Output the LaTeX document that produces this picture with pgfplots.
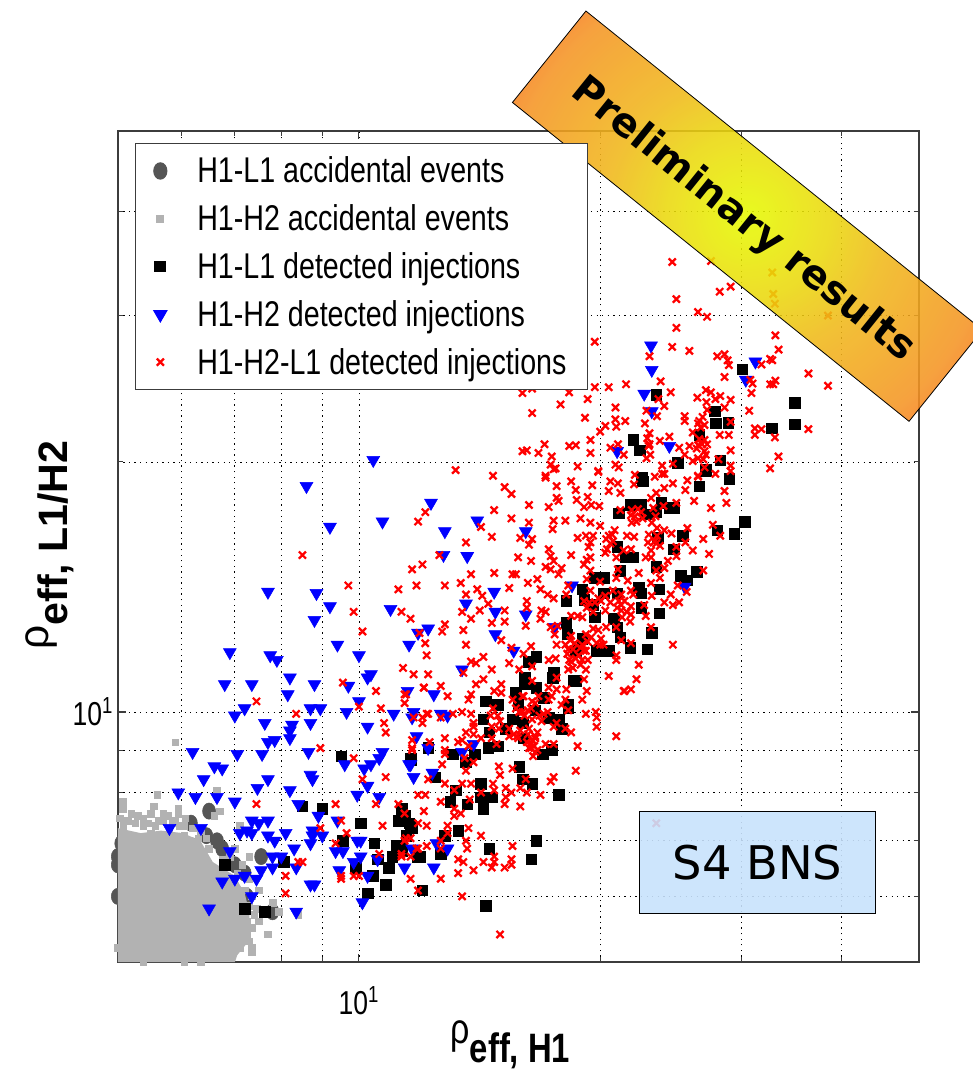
\documentclass[border=0pt]{standalone}
\usepackage{fontspec}
\usepackage{graphicx}
\usepackage{pgfplots}
\pgfplotsset{compat=1.18}
\setmainfont{Liberation Sans}[FakeStretch=0.8]
\newfontfamily\djv{DejaVu Sans}
\definecolor{darkev}{RGB}{85,85,85}
\definecolor{lightev}{RGB}{178,178,178}
\definecolor{frame}{RGB}{60,60,60}
\definecolor{boxblue}{RGB}{200,226,252}
\pgfdeclareradialshading{banner}{\pgfpoint{0bp}{0bp}}{%
  rgb(0bp)=(0.90,0.98,0);rgb(8bp)=(0.92,0.85,0.05);rgb(14bp)=(0.94,0.72,0.10);
  rgb(24bp)=(0.96,0.58,0.14);rgb(33bp)=(1,0.30,0.12);rgb(72bp)=(1,0.30,0.12)}
\newcommand{\gap}{\hspace*{21pt}}
\begin{document}
\begin{tikzpicture}
\begin{scope}[x=0.75pt,y=0.75pt]
\path[use as bounding box] (-118.5,-105) rectangle (859.5,968);
\end{scope}
\begin{axis}[
  set layers,
  scale only axis,
  width=604.5pt, height=627pt,
  xmode=log, ymode=log,
  xmin=5, xmax=50, ymin=5, ymax=50,
  clip=false,
  xtick={10}, ytick={10},
  xticklabels={10\textsuperscript{1}}, yticklabels={10\textsuperscript{1}},
  minor xtick={6,7,8,9,20,30,40},
  minor ytick={6,7,8,9,20,30,40},
  grid=both,
  major grid style={black, line width=0.6pt, dash pattern=on 1pt off 3.2pt},
  minor grid style={black, line width=0.6pt, dash pattern=on 1pt off 3.2pt},
  axis line style={frame, line width=1.1pt},
  tick align=inside,
  major tick length=6pt, minor tick length=4pt,
  tick style={frame, line width=0.8pt},
  tick label style={font=\fontsize{25}{25}\selectfont},
  xticklabel style={yshift=-15pt},
  xlabel={{\fontsize{32}{32}\selectfont ρ}\raisebox{-14pt}{\fontsize{31}{31}\selectfont\bfseries eff, H1}},
  ylabel={\scalebox{1.25}[1]{{\fontsize{32}{32}\selectfont ρ}\raisebox{-14pt}{\fontsize{31}{31}\selectfont\bfseries eff, L1/H2}}},
  xlabel style={at={(axis description cs:0.49,-0.0993)},anchor=center},
  ylabel style={at={(axis description cs:-0.085,0.502)},anchor=center},
  legend cell align=left,
  legend image post style={xshift=4pt},
  legend style={at={(0.0211,0.9856)}, anchor=north west, draw=frame, line width=0.9pt,
    font=\fontsize{27}{28}\selectfont, row sep=11pt, inner xsep=14pt, inner ysep=8pt},
]
% H1-L1 accidental
\addplot[only marks, mark=*, mark size=4.9pt, color=darkev, on layer=pre main, mark layer=like plot,
  every mark/.append style={yscale=1.25}] coordinates {
(6.5,7.6)(6.17,7.35)(6.45,7.1)(6.65,7)(6.75,6.85)(7,6.55)(7.55,6.7)(7.8,5.75)(7.25,6)
(5,6.7)(5,6.55)(5,6)(5.05,6.95)(5.35,6.95)(5.6,7)(6.2,6.9)(7.2,6.4)};
\addlegendentry{\gap H1-L1 accidental events}
% dense core of the H1-H2 accidentals, too many overlapping points to read one by one
\addplot[forget plot, draw=none, fill=lightev] coordinates {
(5,7.25)(5.34,7.15)(5.66,7.2)(6.03,7.15)(6.34,7)(6.57,6.6)(7,6.35)(7.2,6.05)(7.3,5.75)
(7.3,5.55)(7.25,5.27)(7.05,5.1)(7,5)(5,5)} -- cycle;
\addplot[only marks, mark=square*, mark size=2.5pt, color=lightev] coordinates {
(5.07,7.8)(5.07,7.65)(5.2,7.55)(5.38,7.45)(5.5,7.55)(5.55,7.7)(5.7,7.55)(5.95,7.65)(5.95,7.55)
(5.08,7.3)(5.26,7.35)(5.38,7.3)(5.57,7.3)(5.7,7.4)(5.85,7.35)(5.98,7.3)(5.6,7.95)(5.9,9.2)
(6.65,8.05)(6.7,7.6)(6.6,7.5)(6.07,7.45)(7,6.85)(7.1,7.3)(7.3,6.7)(7.5,6.1)(7.45,5.8)(7.95,5.75)
(8.4,5.7)(7.7,5.4)(7.35,5.2)(7.35,5.15)(7.8,5.9)(7.25,5.4)(7.1,5.35)(7,5.2)(6.75,5.13)(6.05,5)
(6.35,5)(5.38,5)(5,5.2)(5.2,7.1)(5.5,7.15)(5.8,7.15)(6.05,7.1)(6.3,7.05)(6.5,6.85)(6.75,6.65)
(7.05,6.4)(7.2,6.1)(7.3,5.85)(7.25,5.6)(7.15,5.45)(7,5.35)(6.9,5.2)
(5.03,7.45)(5.15,7.4)(5.3,7.5)(5.45,7.35)(5.62,7.4)(5.78,7.5)(5.9,7.4)(6.05,7.3)(6.2,7.25)(6.35,7.2)
(6.45,7.05)(6.9,6.7)(7.15,6.55)(7.3,6.3)(7.35,6)(7.4,5.7)(7.5,5.6)(7.35,5.5)(7.3,5.3)(7.1,5.2)};
\addlegendentry{\gap H1-H2 accidental events}
% H1-L1 injections
\addplot[only marks, mark=square*, mark size=4pt, color=black] coordinates {
(9.5,8.85)(11.6,8.8)(8.5,7.7)(9,7.65)(11.3,7.65)(11.2,7.4)(10.05,7.35)(11.6,7.3)(9.55,7)(10.45,6.95)
(11.15,6.9)(11,6.7)(10.9,6.5)(6.8,6.55)(8.05,6.6)(9.9,6.5)(10.55,6.65)(10.4,6.35)(10.8,6.2)(10.25,6.05)
(7.2,5.8)(7.63,5.75)(11.85,6.7)(16.1,10.8)(16.65,10.7)(15.7,10.55)(17.45,11)(18.55,10.9)(14.4,10.3)
(14.9,10.2)(15.8,10.2)(16.6,10.05)(18.25,10.1)(17.25,9.85)(17.75,9.8)(14.3,9.8)(15.55,9.8)(16,9.7)
(17.9,9.55)(15.25,9.55)(14.55,9.45)(16.05,9.3)(14.5,9.05)(14.9,9.1)(13.1,8.9)(13.95,8.9)(13.6,8.7)
(16.95,8.9)(17.4,9)(12.2,9.05)(11.6,8.75)(12.45,8.35)(15.85,8.6)(16,8.3)(16.45,8.2)(14.2,8.2)(14.2,7.9)
(13.2,8.05)(13,7.8)(13.65,7.75)(14.65,7.9)(14.3,7.65)(17.75,7.95)(13.3,7.2)(12.8,7.1)(16.65,7)(14.55,6.85)
(16.4,6.65)(12.65,6.75)(11.9,6.7)(12,6.1)(14.4,5.85)(11.4,7.5)(11.55,7.35)(11.65,7.25)(11.45,7.1)(11.3,6.9)
(11.3,6.8)(22.6,18.95)(29,19.1)(26.6,18.7)(27.1,19.5)(21.8,17.75)(22.5,17.75)(23.85,17.85)(21.1,17.35)
(22.8,17.3)(23.5,17.4)(24.4,17.6)(24.7,17.6)(30.3,16.95)(29.4,16.4)(28,16.55)(25.35,16.3)(23.6,16.2)
(24.7,15.7)(21,15.8)(22,15.35)(21.5,15.35)(23.5,14.95)(21.2,14.8)(19.7,14.5)(20.25,14.5)(25.2,14.6)
(26.4,14.75)(25.7,14.4)(23.7,14.05)(22.35,14.1)(22.5,13.9)(20.2,13.9)(21,13.9)(19,14.05)(19.1,13.65)
(18.15,13.6)(19.6,13.45)(22.5,13.35)(23.7,13.15)(19.7,13)(20.8,12.95)(18.15,12.8)(21,12.65)(18.2,12.4)
(19,12.25)(21.2,12.3)(23.2,12.45)(22.9,11.9)(21.8,11.95)(20.5,11.85)(19.8,11.85)(18.65,11.85)(16.65,11.65)
(16.3,11.5)(17.5,11.15)(18.65,10.9)(16.1,11)(17,10.4)(18.25,10.2)(23.5,24.1)(30.1,25.85)(27.8,23)(27.9,22.25)
(28.9,22.3)(35,23.55)(35,22.2)(32.75,21.95)(22,21.25)(22.4,20.65)(26.6,21.55)(28.25,20.1)(27.1,19.6)(25,19.95)
(22.55,19.15)};
\addlegendentry{\gap H1-L1 detected injections}
% H1-H2 injections
\addplot[only marks, mark=triangle*, mark size=5.6pt, color=blue,
  every mark/.append style={rotate=180}] coordinates {
(10.42,20.1)(8.6,18.7)(12.3,17.85)(10.7,16.95)(9.2,16.7)(12.8,16.5)(12.75,15.45)(13.65,15.4)(7.7,13.95)
(8.85,13.9)(9.2,13.4)(10.95,13.3)(13.6,13.5)(8.8,12.9)(12.2,12.6)(11.85,12.45)(9.4,12.05)(11.55,12.05)
(6.9,11.8)(7.75,11.7)(7.9,11.55)(10,11.7)(10.35,11.1)(10.25,11)(13.45,11.25)(8.2,11)(7.35,10.8)(6.8,10.8)
(8.8,10.8)(9.7,10.75)(8.15,10.5)(11.5,10.6)(12.4,10.5)(10,10.3)(7.2,10.1)(8.7,10.1)(8.95,10.1)(9.65,10)
(7,9.9)(11.05,9.95)(11.7,10)(12.65,9.95)(12.9,9.9)(7.63,9.7)(8.7,9.7)(8.25,9.65)(10.25,9.6)(11.65,9.85)
(8.2,9.5)(8.2,9.3)(7.85,9.25)(7.7,9.2)(6.2,8.95)(7.05,8.9)(7.57,8.9)(8.65,8.95)(10.7,8.95)(10.6,8.8)
(9.6,8.65)(10.15,8.55)(10.35,8.65)(11.55,8.65)(6.6,8.6)(6.75,8.55)(6.4,8.3)(7.7,8.3)(8.7,8.4)(8.75,8.3)
(11.7,8.35)(7.47,8.1)(8.2,8.05)(10.25,8.15)(9.95,7.95)(5.95,8)(6.25,7.9)(6.65,7.9)(7,7.8)(10.6,7.9)
(8.4,7.75)(8.9,7.5)(7.7,7.4)(7.35,7.4)(7.5,7.35)(9.4,7.4)(5.8,7.25)(6.35,7.25)(7.1,7.15)(7.25,7.2)
(7.35,7.15)(8.75,7.2)(8.75,7.1)(9,7.1)(8.1,7.15)(7.7,7.1)(7.85,7)(8.7,6.95)(9.95,7)(10.05,7)(8.3,6.85)
(6.9,6.8)(9.35,6.8)(9.55,6.8)(8,6.7)(7.8,6.7)(10.05,6.7)(9.85,6.6)(10.55,6.65)(11.4,6.5)(7.8,6.5)
(8.35,6.5)(7.55,6.45)(9.45,6.45)(10.25,6.35)(7.2,6.35)(7,6.3)(7.45,6.3)(6.75,6.25)(8.7,6.2)(8.8,6.2)
(7.35,6)(10.1,5.9)(6.5,5.8)(8.35,5.75)(11.8,9.35)(13.9,9.15)(12.2,9.05)(13.45,8.95)(11.6,8.65)(12.35,8.45)
(11.65,6.85)(12.5,6.95)(12.9,6.85)(12.4,6.5)(14.05,17)(16.15,16.5)(14.75,13.95)(14.8,13.2)(16.15,13.1)
(14.8,12.4)(15.6,11.85)(18.45,14.2)(17.55,12.65)(25.5,14.15)(23.15,27.6)(23.2,25.8)(22.7,24.15)(31.25,26.4)
(30.4,25.1)(23.2,23)(24.4,20.9)(21,20.6)};
\addlegendentry{\gap H1-H2 detected injections}
% H1-H2-L1 injections
\addplot[only marks, mark=x, mark size=3.8pt, color=red, mark options={line width=1.7pt}] coordinates {
(24.6,34.8)(24.9,31.4)(28.2,32.05)(29.1,32.5)(26.5,30.3)(27.2,29.9)(24.9,29)(19.7,27.9)(24.6,27.5)(25.85,27.2)
(23.05,26.8)(33.1,28.4)(33.4,27.3)(28,26.8)(28.6,26.95)(28.85,26.5)(28.95,26.15)(31.8,26.2)(32.6,26.6)(32.8,26.5)
(28.6,25.3)(30.8,25.1)(31,24.85)(36.4,25.55)(38.5,24.7)(32.6,24.8)(32.9,24.8)(33.1,25.05)(23.8,25)(21.55,24.8)
(20.5,24.6)(19.7,24.6)(18.3,24.25)(16.45,24.5)(16,24.2)(24.5,24.25)(30.9,24.2)(26.45,23.9)(27.1,24.4)(27.5,24.25)
(28.25,24)(27.85,23.8)(29.1,23.75)(27.15,23.6)(23.65,23.8)(19.3,23.8)(17.85,23.45)(24.05,23.35)(20.9,23.25)(27.2,23.1)
(28.6,23.25)(22.85,23.05)(16.45,22.9)(30.7,23.05)(19.15,22.6)(20.9,22.5)(21.5,22.4)(23.55,22.7)(25.5,22.7)(26.85,22.65)
(29.1,22.35)(22.75,22.25)(20.95,22.05)(26.5,22.25)(20.3,22.1)(25.5,22.4)(31.2,21.95)(31.8,21.9)(31.2,21.55)(36.4,21.9)
(33.05,21.4)(20,21.75)(23.05,21.65)(26.1,21.7)(28.2,21.55)(28.95,21.55)(19.45,21.25)(23.75,21.2)(24.4,21.45)(27,21.25)
(23.05,21)(21.05,21)(17.05,21)(16,20.6)(16.2,20.65)(16.75,20.5)(18.3,20.9)(18.65,20.95)(19.45,20.5)(20.6,20.8)
(21.4,20.4)(23.1,20.4)(25.1,20.8)(25.85,20.9)(26.5,20.95)(27,20.6)(29.1,20.65)(33.4,20.3)(17.4,20.3)(25.5,20.4)
(26.5,20.2)(28.1,20.15)(22.85,20.2)(17.35,19.85)(17.6,19.65)(18.75,19.75)(19.9,19.5)(20.9,19.85)(21.1,19.7)(23.9,19.8)
(24.65,19.9)(26.1,20.05)(27,19.7)(29.1,19.8)(32.6,19.65)(17.1,19.25)(22.1,19.3)(23.9,19.35)(26.5,19.2)
(14.7,19.25)(17.1,19.15)(17.5,19.6)(19.9,19.45)(15.2,18.65)(15.5,18.3)(17.65,18.7)(18.4,18.95)(18.65,18.5)(19.55,18.75)
(20.6,18.95)(20.5,18.45)(21.05,18.85)(21.2,18.35)(22.05,18.8)(23.4,19.2)(24.05,19.35)(24.65,18.85)(24.05,18.6)(25.55,18.5)
(25.7,19)(26.5,19.25)(27.85,19.35)(29.1,19.5)(28.6,18.45)(28.75,17.85)(27.5,17.6)(26.2,17.95)(17.65,18.1)(17.75,17.95)
(18.7,18)(19.3,18.15)(19.1,17.65)(19.5,17.75)(19.95,17.7)(21.2,17.5)(17.25,17.65)(16.3,17.75)(14.75,17.5)(15.5,17.1)
(16.3,16.9)(17.5,17)(18.1,17)(18.9,17.1)(19.45,16.9)(20,16.75)(21.85,17.25)(22.5,17.4)(23.15,18.1)(23.5,18.35)
(24,17.7)(24.9,17.85)(14.2,16.7)(14.65,16.25)(15.9,16.2)(16.45,16.15)(16.3,15.9)(17.45,16.6)(18.75,16.2)(19.2,16.3)
(19.6,16.3)(20.5,16.3)(20.85,16.55)(21.6,16.3)(22.05,16.25)(23,16.35)(23.55,16.65)(24.05,16.55)(24.55,16.4)(25.7,16.65)
(26.9,16.15)(27.65,16.8)(28.25,16.3)(27.35,15.5)(26.1,15.65)(25.55,16)(24.9,15.8)(22.95,16)(23.75,15.85)(21.85,15.7)
(21.4,15.65)(20.35,16.15)(19.35,15.8)(19.45,16)(17.25,15.7)(18.4,15.45)(20.3,15.55)(20.95,15.35)(23.15,15.65)(22.8,15.35)
(24.9,15.4)(15.8,15.35)(16.4,15.2)(17.35,15.4)(17.5,15.2)(19.45,15.35)(19.1,15.05)(19.25,15.25)(17.1,14.95)(17.35,14.85)
(17.9,14.9)(17.75,14.65)(24.3,15.2)(24.05,14.9)(23.15,15.35)(19.45,14.8)(21.05,14.85)(22.35,14.7)(23.5,14.8)(26.9,14.8)
(13.8,14.65)(14.75,14.7)(15.55,14.65)(15.7,14.65)(16.7,14.45)(16.25,14.3)(19.25,14.45)(20.95,14.5)(21.65,14.4)(23.75,14.5)
(23.15,14.3)(25,14.2)(20,14.35)(15.4,14.1)(16.85,14.05)(14.05,14.05)(14.25,13.8)(17.2,13.85)(17.5,13.7)(18.25,14.2)
(18.15,13.85)(19.45,14)(19.9,13.7)(20.3,13.8)(20.75,14)(21.25,13.85)(21.85,14)(22,13.85)(24.5,13.85)(23.2,13.8)
(24.05,13.55)(24.65,13.45)(25.1,13.55)(25.65,13.95)(19.1,13.6)(19.25,13.35)(18.75,13.05)(16.2,13.6)(16.2,13.35)(14.5,13.5)
(14.15,13.25)(15.2,13.25)(15.2,12.85)(13.8,12.95)(14.65,12.8)(16.15,12.7)(16.9,13.25)(17.1,13.2)(16.85,12.95)(20.3,13.25)
(21.25,13.45)(21.85,13.4)(22.7,13.45)(22.8,13.05)(21.25,13.25)(21.85,13.1)(19.6,13.2)(19,13)(21.8,12.85)(18.4,13.05)
(20.95,12.65)(20.35,12.65)(19.9,12.55)(23.15,12.65)(17.35,12.65)(17.7,12.7)(17.55,12.4)(19.2,12.4)(19.5,12.3)(20.05,12.25)
(21.25,12.2)(15.05,12.2)(18.35,12.2)(19,12.05)(17.65,12.05)(15.5,11.95)(16.4,12)(20,12.05)(24.65,12.05)(21.85,12.1)
(18.25,11.9)(19.2,11.85)(20.95,11.7)(16.05,11.75)(14.3,11.65)(13.8,11.5)(14,11.45)(15.4,11.45)(15.85,11.25)(14.65,11.25)
(16.45,11.35)(17.25,11.55)(17.6,11.6)(18.25,11.25)(19,11.55)(18.65,11.6)(20.95,11.55)(22.35,11.4)(20.5,11.05)(22.2,10.95)
(17.65,11)(19.1,10.95)(14.3,10.95)(14,10.8)(15.05,10.8)(16.45,10.9)(17.25,10.7)(17.65,10.65)(18.15,10.65)(19.25,10.6)
(21.85,10.65)(21.4,10.6)(14.75,10.6)(13.8,10.5)(15.05,10.55)(15.55,10.35)(16.05,10.45)(16.75,10.45)(17.4,10.45)(18.1,10.35)
(19,10.35)(12.05,10.7)(12.65,10.75)(12.9,10.45)(11.45,10.5)(11.4,10.25)(13.7,10.35)(14.7,10.1)(16,10.45)(16.45,10.3)
(17.25,10.35)(17.9,10.2)(18.25,10.05)(19.2,9.95)(19.75,10)(19.8,9.85)(19.8,9.6)(20.95,9.35)(21.45,10.6)(12.2,9.95)
(12,9.85)(11.7,9.85)(12,9.7)(13.1,9.95)(13.45,10)(12.65,9.85)(13.8,9.95)(13.9,9.7)(13.6,9.45)(15,9.75)(14.65,9.6)
(15.4,9.55)(15.85,10)(16.4,10.1)(16.45,9.8)(16.9,9.75)(17.65,9.7)(16.3,9.55)(16.6,9.35)(18.1,9.55)(18.4,9.45)(13.9,9.6)
(12.8,9.3)(12.25,9.2)(11.65,9.25)(11.65,9.05)(12.8,9)(12.8,8.9)(14.2,9.3)(14.65,9.3)(14.85,9.15)(15.4,9.35)(15.75,9.35)
(16.45,9.25)(16.4,9.05)(16.6,8.95)(17.1,9.15)(17.5,9.15)(18.75,9.1)(13.55,8.8)(13.6,8.5)(13.9,8.7)(12.7,8.65)(14.95,8.6)
(15,8.4)(15.55,8.55)(18.65,8.5)(17.5,8.35)(17.35,8.25)(16.15,8.3)(12.2,8.3)(12.8,8.2)(13.45,8.2)(13.8,8.2)(14.7,8.2)
(14.2,8)(14.75,8.05)(15.25,8.1)(15.5,8)(15.25,7.9)(15.2,7.75)(15.9,8.1)(16.2,8)(16.85,7.95)(11.85,7.95)(12.1,7.95)
(12.65,7.8)(13.75,7.85)(13.15,8.05)(15.9,7.7)(12.05,7.6)(13.15,7.65)(13.15,7.5)(13.4,7.55)(11.85,7.35)(12.15,7.3)
(12.9,7.3)(12.9,7.15)(13.7,7.25)(14.2,7.1)(11.4,7.55)(11.4,7)(11.6,7.05)(11.45,7.05)(12.15,6.9)(11.85,6.85)(12.65,7)
(12.65,6.85)(13.6,7)(13.65,6.85)(15.55,6.9)(11.3,6.7)(11.6,6.7)(13.3,6.65)(13.5,6.6)(14.75,6.7)(14.75,6.6)(14.3,6.6)
(14.65,6.5)(15.5,6.65)(15.5,6.55)(15.2,6.5)(13.9,6.45)(11.6,6.3)(12.65,6.3)(13.3,6.4)(11.85,6.1)(13.45,6)(15,5.4)
(8.95,9.05)(9.85,8.8)(10.8,9.45)(11.65,9)(10.1,8.3)(10.8,8.35)(7.45,7.75)(9.35,7.75)(10.5,7.75)(11.2,7.75)(9.5,7.4)
(8.95,7.25)(10.7,7.3)(9.65,7.15)(9.35,6.95)(8.4,6.6)(8.5,6.6)(10.6,6.75)(11.3,6.75)(11.8,6.85)(8.1,6.35)(9.5,6.35)
(9.5,6.3)(9.85,6.35)(10,6.35)(8.1,6.05)(13.2,19.55)(12.1,17.4)(11.85,16.95)(8.5,15.45)(12.6,15.45)(13.6,16)(12,15.05)
(11.65,14.85)(9.7,14.2)(11.2,14.05)(11.8,14.2)(12.8,14.2)(13.4,14.3)(13.6,13.85)(9.85,13.2)(11.3,13.2)(11.6,12.95)
(13.45,13.2)(12.8,12.75)(12.7,12.5)(13.5,12.55)(10.1,12.5)(11.9,12.45)(12.1,12.1)(13.6,12.05)(12.15,11.7)(11.35,11.3)
(11.7,11.1)(12.2,11.1)(13.5,11.15)(9.55,10.85)(10.5,10.6)(12.05,10.7)(11.4,10.5)(7.45,10.3)(8.35,9.95)(10,10.15)
(10.65,10.1)(12.15,9.95)(10.75,9.7)(32.8,33.8)(32.9,31.85)(33.05,31)(38.5,30)(27.5,34.9)(23.5,7.35)
(16.2,9.2)(16.3,9.05)(16.4,9.15)(16.55,9.1)(16.7,9)(16.5,8.85)(16.6,9.3)(16.25,9.4)(16.7,9.45)(15.8,9.3)(15.6,9.4)
(15.9,9.5)(16.1,9.9)(16,10)(16.25,10.05)(15.7,10.1)(16.6,10.25)(16.8,9.9)(17,9.95)(17.2,10)(17.5,9.6)(14.9,9.9)
(14.95,9.55)(14.6,9.9)(13.9,9.4)(13.7,9.1)(13.45,9.25)(13.3,9.2)(18.2,11.75)(18.4,11.5)(18.5,11.9)(18.6,12.1)(18.8,11.7)
(18.9,11.4)(19.1,11.85)(19.3,12.15)(18.4,12.35)(18.1,12.05)(18.9,11.95)(19.3,11.55)(19.6,12.6)(19.8,12.1)(20.2,12.05)
(18.5,11.3)(18.3,11.55)(19.2,11.25)(21.9,17.5)(22.1,17.2)(22.3,17.55)(22.6,17.1)(21.9,16.9)(22.2,16.95)(23.2,16.9)
(23.45,17.2)(23.3,17.6)(23.55,16.3)(23.5,15.95)(23.4,16.05)(20.7,16.35)(20.6,15.95)(20.4,15.7)(20.75,16.05)(19.4,13.55)
(19.7,13.55)(20.05,13.6)(20.6,13.55)(21.1,13.6)(21.45,13.6)(21,13.35)(21.6,13.2)(21.3,13)(26.6,21.3)(26.8,21)(26.4,20.75)
(27.1,20.4)(26.9,20.15)(27.2,21)(26.7,22)(26.6,22.4)(27,22.15)(23,20.9)(22.9,21.35)};
\addlegendentry{\gap H1-H2-L1 detected injections}
\end{axis}
\begin{scope}[x=0.75pt,y=0.75pt]
\node[draw=black, line width=0.7pt, fill=boxblue, fill opacity=0.9, text opacity=1,
  minimum width=177.75pt, minimum height=77.25pt, font=\djv\fontsize{35}{35}\selectfont]
  at (643.5,100.5) {S4 BNS};
\end{scope}
% banner: canvas rotation keeps the radial shading round along the strip
\begin{scope}[x=0.75pt,y=0.75pt,transform canvas={shift={(475.125pt,562.875pt)},rotate=-38.8}]
\begin{scope}
\clip (-256,-59) rectangle (256,59);
\shade[shading=banner, opacity=0.88] (-256,-256) rectangle (256,256);
\end{scope}
\draw[black, line width=0.6pt] (-256,-59) rectangle (256,59);
\node[font=\djv\bfseries\fontsize{30}{30}\selectfont] at (-1,-6) {Preliminary results};
\end{scope}
\end{tikzpicture}
\end{document}
